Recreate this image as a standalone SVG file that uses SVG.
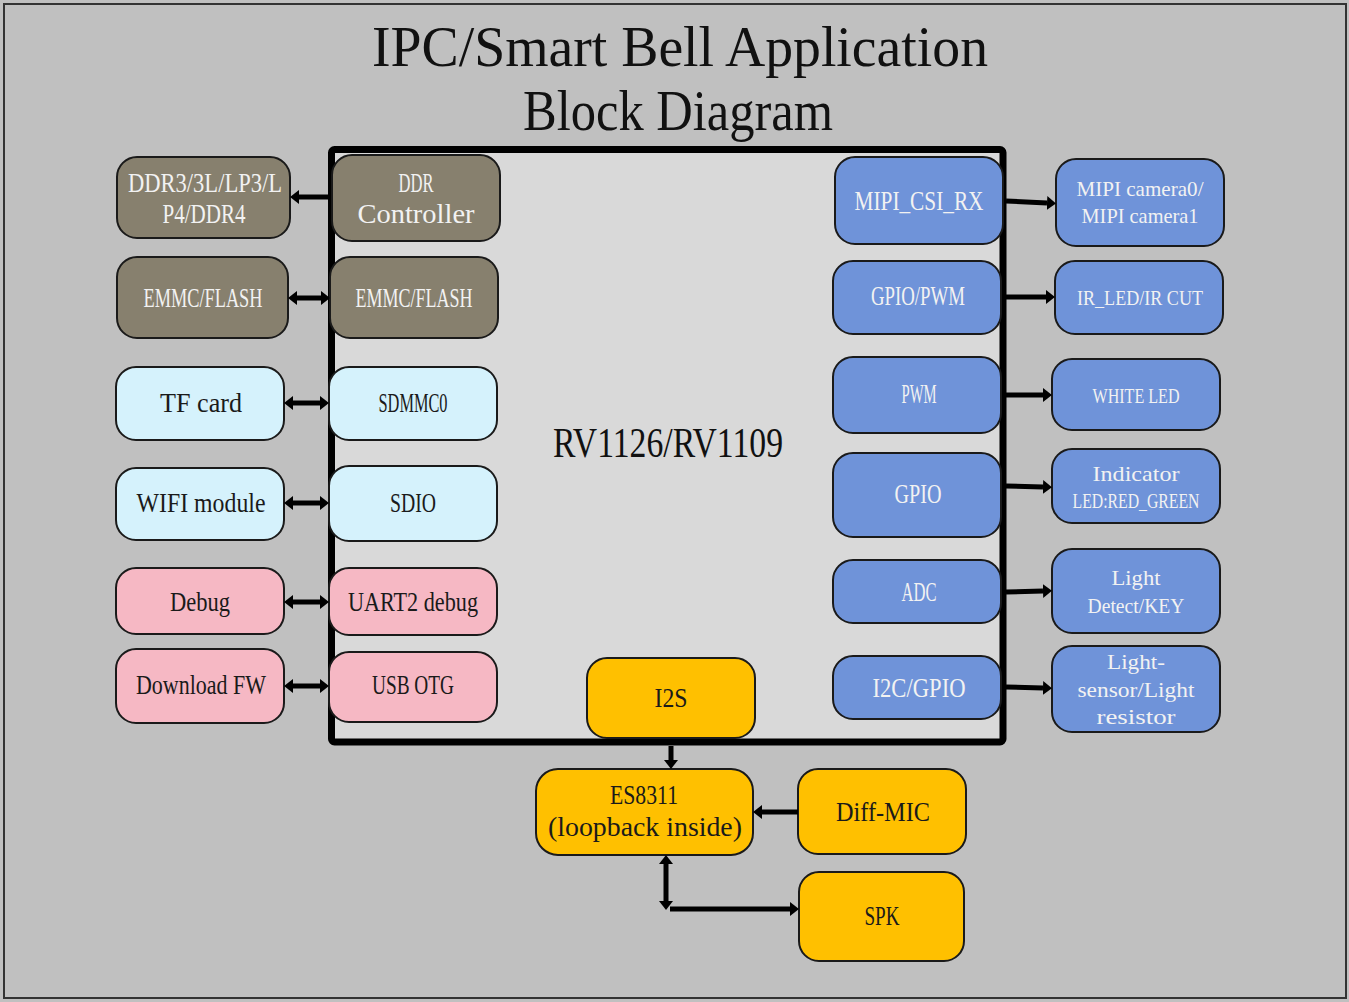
<svg xmlns="http://www.w3.org/2000/svg" width="1349" height="1002" viewBox="0 0 1349 1002">
<style>
text{font-family:"Liberation Serif","DejaVu Serif",serif;text-anchor:middle}
.t{font-size:27px}
.s{font-size:22px}
.lt{fill:#f2f2f2}
.dk{fill:#1a1a1a}
.box{stroke:#1a1a1a;stroke-width:2}
.br{fill:#87806e}
.bl{fill:#6f93d9}
.cy{fill:#d5f2fc}
.pk{fill:#f6b8c4}
.gd{fill:#ffc000}
.c{stroke:#000;stroke-width:5;fill:none}
</style>
<defs>
<marker id="ah" markerUnits="userSpaceOnUse" markerWidth="10" markerHeight="14" refX="0" refY="7" orient="auto-start-reverse" viewBox="0 0 10 14">
<path d="M0,0 L9,7 L0,14 Z" fill="#000"/>
</marker>
</defs>
<rect x="0" y="0" width="1349" height="1002" fill="#c0c0c0"/>
<rect x="4" y="4" width="1342" height="994" fill="#c0c0c0" stroke="#333" stroke-width="2"/>

<g id="title">
<text x="680" y="66" font-size="58" fill="#111" textLength="616" lengthAdjust="spacingAndGlyphs">IPC/Smart Bell Application</text>
<text x="678" y="130" font-size="58" fill="#111" textLength="310" lengthAdjust="spacingAndGlyphs">Block Diagram</text>
</g>

<g id="chip">
<rect x="331.5" y="149.5" width="671.5" height="592.5" rx="3" fill="#d9d9d9" stroke="#000" stroke-width="7"/>
<text x="668" y="457" font-size="42" fill="#111" textLength="230" lengthAdjust="spacingAndGlyphs">RV1126/RV1109</text>
</g>

<g id="ddr-ext">
<rect class="box br" x="117" y="157" width="173" height="81" rx="20"/>
<text class="t lt" x="205" y="192" textLength="154" lengthAdjust="spacingAndGlyphs">DDR3/3L/LP3/L</text>
<text class="t lt" x="204" y="223" textLength="83" lengthAdjust="spacingAndGlyphs">P4/DDR4</text>
</g>
<g id="ddr-ctrl">
<rect class="box br" x="332" y="155" width="168" height="86" rx="20"/>
<text class="t lt" x="416" y="192" textLength="35" lengthAdjust="spacingAndGlyphs">DDR</text>
<text class="t lt" x="416" y="223" textLength="117" lengthAdjust="spacingAndGlyphs">Controller</text>
</g>
<g id="emmc-ext">
<rect class="box br" x="117" y="257" width="171" height="81" rx="20"/>
<text class="t lt" x="203" y="307" textLength="119" lengthAdjust="spacingAndGlyphs">EMMC/FLASH</text>
</g>
<g id="emmc-int">
<rect class="box br" x="330" y="257" width="168" height="81" rx="20"/>
<text class="t lt" x="414" y="307" textLength="117" lengthAdjust="spacingAndGlyphs">EMMC/FLASH</text>
</g>
<g id="tf">
<rect class="box cy" x="116" y="367" width="168" height="73" rx="20"/>
<text class="t dk" x="201" y="412" textLength="82" lengthAdjust="spacingAndGlyphs">TF card</text>
</g>
<g id="sdmmc0">
<rect class="box cy" x="329" y="367" width="168" height="73" rx="20"/>
<text class="t dk" x="413" y="412" textLength="69" lengthAdjust="spacingAndGlyphs">SDMMC0</text>
</g>
<g id="wifi">
<rect class="box cy" x="116" y="468" width="168" height="72" rx="20"/>
<text class="t dk" x="201" y="512" textLength="129" lengthAdjust="spacingAndGlyphs">WIFI module</text>
</g>
<g id="sdio">
<rect class="box cy" x="329" y="466" width="168" height="75" rx="20"/>
<text class="t dk" x="413" y="512" textLength="46" lengthAdjust="spacingAndGlyphs">SDIO</text>
</g>
<g id="debug">
<rect class="box pk" x="116" y="568" width="168" height="66" rx="20"/>
<text class="t dk" x="200" y="611" textLength="60" lengthAdjust="spacingAndGlyphs">Debug</text>
</g>
<g id="uart2">
<rect class="box pk" x="329" y="568" width="168" height="67" rx="20"/>
<text class="t dk" x="413" y="611" textLength="130" lengthAdjust="spacingAndGlyphs">UART2 debug</text>
</g>
<g id="download">
<rect class="box pk" x="116" y="649" width="168" height="74" rx="20"/>
<text class="t dk" x="201" y="694" textLength="130" lengthAdjust="spacingAndGlyphs">Download FW</text>
</g>
<g id="usbotg">
<rect class="box pk" x="329" y="652" width="168" height="70" rx="20"/>
<text class="t dk" x="413" y="694" textLength="82" lengthAdjust="spacingAndGlyphs">USB OTG</text>
</g>

<g id="mipi-csi">
<rect class="box bl" x="835" y="157" width="168" height="87" rx="20"/>
<text class="t lt" x="919" y="210" textLength="129" lengthAdjust="spacingAndGlyphs">MIPI_CSI_RX</text>
</g>
<g id="mipi-cam">
<rect class="box bl" x="1056" y="159" width="168" height="87" rx="20"/>
<text class="s lt" x="1140" y="196" textLength="127" lengthAdjust="spacingAndGlyphs">MIPI camera0/</text>
<text class="s lt" x="1140" y="223" textLength="117" lengthAdjust="spacingAndGlyphs">MIPI camera1</text>
</g>
<g id="gpio-pwm">
<rect class="box bl" x="833" y="261" width="168" height="73" rx="20"/>
<text class="t lt" x="918" y="305" textLength="94" lengthAdjust="spacingAndGlyphs">GPIO/PWM</text>
</g>
<g id="ir-led">
<rect class="box bl" x="1055" y="261" width="168" height="73" rx="20"/>
<text class="s lt" x="1140" y="305" textLength="126" lengthAdjust="spacingAndGlyphs">IR_LED/IR CUT</text>
</g>
<g id="pwm">
<rect class="box bl" x="833" y="357" width="168" height="76" rx="20"/>
<text class="t lt" x="919" y="403" textLength="35" lengthAdjust="spacingAndGlyphs">PWM</text>
</g>
<g id="white-led">
<rect class="box bl" x="1052" y="359" width="168" height="71" rx="20"/>
<text class="s lt" x="1136" y="403" textLength="87" lengthAdjust="spacingAndGlyphs">WHITE LED</text>
</g>
<g id="gpio">
<rect class="box bl" x="833" y="453" width="168" height="84" rx="20"/>
<text class="t lt" x="918" y="503" textLength="47" lengthAdjust="spacingAndGlyphs">GPIO</text>
</g>
<g id="indicator">
<rect class="box bl" x="1052" y="449" width="168" height="74" rx="20"/>
<text class="s lt" x="1136" y="481" textLength="87" lengthAdjust="spacingAndGlyphs">Indicator</text>
<text class="s lt" x="1136" y="508" textLength="127" lengthAdjust="spacingAndGlyphs">LED:RED_GREEN</text>
</g>
<g id="adc">
<rect class="box bl" x="833" y="560" width="168" height="63" rx="20"/>
<text class="t lt" x="919" y="601" textLength="35" lengthAdjust="spacingAndGlyphs">ADC</text>
</g>
<g id="light-detect">
<rect class="box bl" x="1052" y="549" width="168" height="84" rx="20"/>
<text class="s lt" x="1136" y="585" textLength="49" lengthAdjust="spacingAndGlyphs">Light</text>
<text class="s lt" x="1136" y="613" textLength="97" lengthAdjust="spacingAndGlyphs">Detect/KEY</text>
</g>
<g id="i2c-gpio">
<rect class="box bl" x="833" y="656" width="168" height="63" rx="20"/>
<text class="t lt" x="919" y="697" textLength="93" lengthAdjust="spacingAndGlyphs">I2C/GPIO</text>
</g>
<g id="light-sensor">
<rect class="box bl" x="1052" y="646" width="168" height="86" rx="20"/>
<text class="s lt" x="1136" y="669" textLength="58" lengthAdjust="spacingAndGlyphs">Light-</text>
<text class="s lt" x="1136" y="697" textLength="117" lengthAdjust="spacingAndGlyphs">sensor/Light</text>
<text class="s lt" x="1136" y="724" textLength="79" lengthAdjust="spacingAndGlyphs">resistor</text>
</g>

<g id="i2s">
<rect class="box gd" x="587" y="658" width="168" height="80" rx="20"/>
<text class="t dk" x="671" y="707" textLength="33" lengthAdjust="spacingAndGlyphs">I2S</text>
</g>
<g id="es8311">
<rect class="box gd" x="536" y="769" width="217" height="86" rx="22"/>
<text class="t dk" x="644" y="804" textLength="68" lengthAdjust="spacingAndGlyphs">ES8311</text>
<text class="t dk" x="645" y="836" textLength="194" lengthAdjust="spacingAndGlyphs">(loopback inside)</text>
</g>
<g id="diff-mic">
<rect class="box gd" x="798" y="769" width="168" height="85" rx="20"/>
<text class="t dk" x="883" y="821" textLength="94" lengthAdjust="spacingAndGlyphs">Diff-MIC</text>
</g>
<g id="spk">
<rect class="box gd" x="799" y="872" width="165" height="89" rx="20"/>
<text class="t dk" x="882" y="925" textLength="35" lengthAdjust="spacingAndGlyphs">SPK</text>
</g>

<g id="connectors">
<line class="c" x1="328" y1="197" x2="299" y2="197" marker-end="url(#ah)"/>
<line class="c" x1="297" y1="298" x2="321" y2="298" marker-start="url(#ah)" marker-end="url(#ah)"/>
<line class="c" x1="293" y1="403" x2="320" y2="403" marker-start="url(#ah)" marker-end="url(#ah)"/>
<line class="c" x1="293" y1="503" x2="320" y2="503" marker-start="url(#ah)" marker-end="url(#ah)"/>
<line class="c" x1="293" y1="602" x2="320" y2="602" marker-start="url(#ah)" marker-end="url(#ah)"/>
<line class="c" x1="293" y1="686" x2="320" y2="686" marker-start="url(#ah)" marker-end="url(#ah)"/>
<line class="c" x1="1006" y1="201" x2="1047" y2="203" marker-end="url(#ah)"/>
<line class="c" x1="1006" y1="297" x2="1046" y2="297" marker-end="url(#ah)"/>
<line class="c" x1="1006" y1="395" x2="1043" y2="395" marker-end="url(#ah)"/>
<line class="c" x1="1006" y1="486" x2="1043" y2="487" marker-end="url(#ah)"/>
<line class="c" x1="1006" y1="592" x2="1043" y2="591" marker-end="url(#ah)"/>
<line class="c" x1="1006" y1="687" x2="1043" y2="688" marker-end="url(#ah)"/>
<line class="c" x1="671" y1="746" x2="671" y2="760" marker-end="url(#ah)"/>
<line class="c" x1="798" y1="812" x2="762" y2="812" marker-end="url(#ah)"/>
<line class="c" x1="666" y1="864" x2="666" y2="901" marker-start="url(#ah)" marker-end="url(#ah)"/>
<line class="c" x1="670" y1="909" x2="790" y2="909" marker-end="url(#ah)"/>
</g>
</svg>
